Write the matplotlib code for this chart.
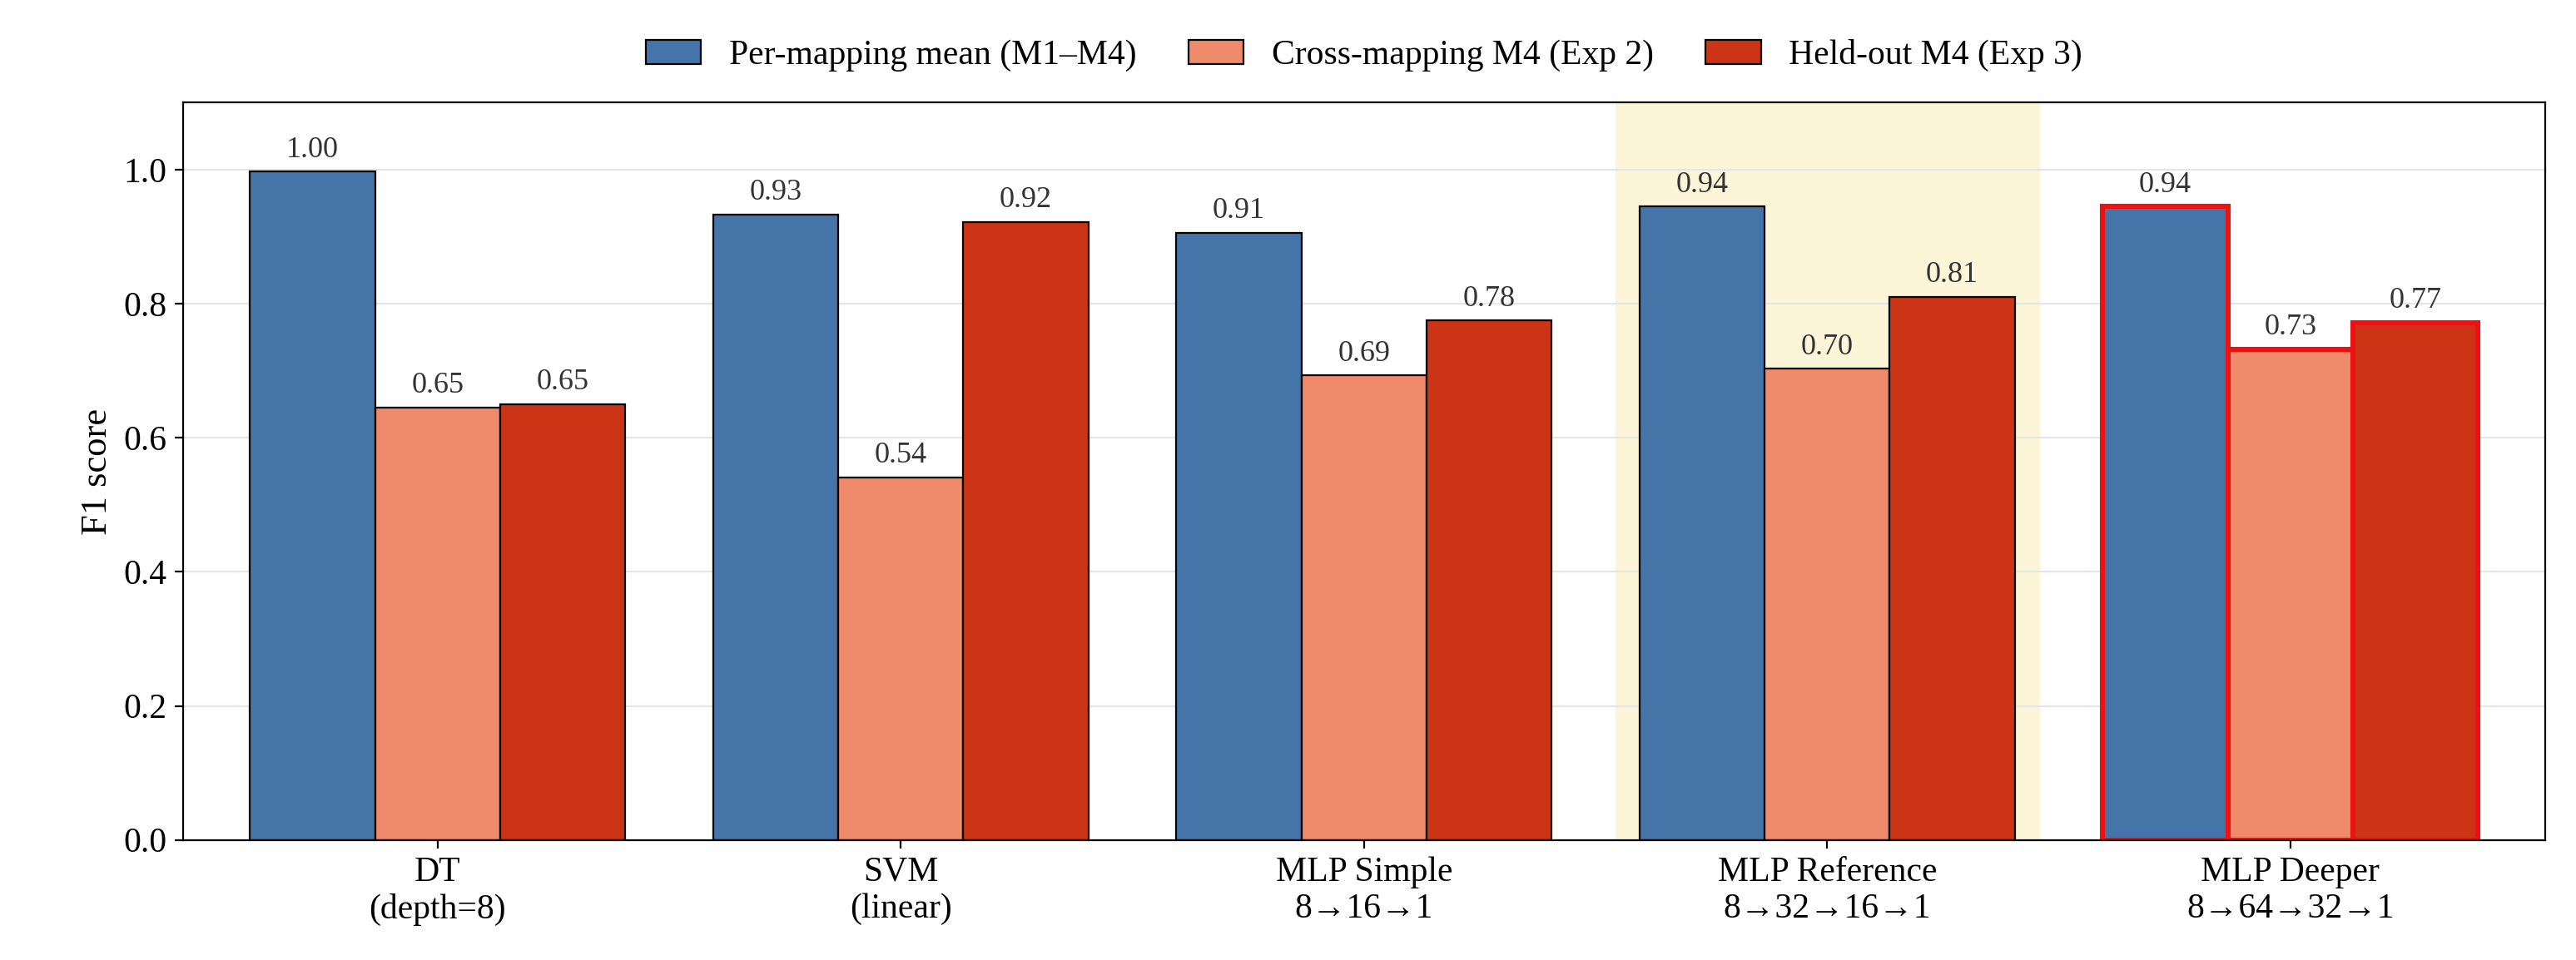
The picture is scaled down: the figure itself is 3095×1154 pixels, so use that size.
import matplotlib.pyplot as plt
import numpy as np

plt.rcParams['font.family'] = ['Liberation Serif', 'DejaVu Serif']

models = ['DT\n(depth=8)', 'SVM\n(linear)', 'MLP Simple\n8→16→1',
          'MLP Reference\n8→32→16→1', 'MLP Deeper\n8→64→32→1']
per_mapping = [0.997, 0.933, 0.906, 0.945, 0.945]
cross_mapping = [0.645, 0.541, 0.693, 0.703, 0.732]
held_out = [0.650, 0.922, 0.775, 0.810, 0.772]

series = [
    ('Per-mapping mean (M1–M4)', per_mapping, '#4575a8'),
    ('Cross-mapping M4 (Exp 2)', cross_mapping, '#ef8a6b'),
    ('Held-out M4 (Exp 3)', held_out, '#cb3414'),
]

fig = plt.figure(figsize=(15.475, 5.77), dpi=200)
ax = fig.add_axes([0.071, 0.125, 0.917, 0.768])

x = np.arange(len(models))
w = 0.27
ax.axvspan(3 - 0.455, 3 + 0.455, color='#fdf5d8', zorder=0)

for i, (name, vals, col) in enumerate(series):
    pos = x + (i - 1) * w
    bars = ax.bar(pos, vals, w, color=col, edgecolor='black', linewidth=0.8,
                  label=name, zorder=2)
    bars[4].set_edgecolor('#ee1111')
    bars[4].set_linewidth(2.2)
    for p, v in zip(pos, vals):
        ax.text(p, v + 0.012, f'{v:.2f}', ha='center', va='bottom',
                fontsize=13, color='#333333')

ax.set_xlim(-0.55, 4.55)
ax.set_ylim(0, 1.1)
ax.set_yticks(np.arange(0, 1.01, 0.2))
ax.set_xticks(x)
ax.set_xticklabels(models, fontsize=15)
ax.tick_params(axis='y', labelsize=15)
ax.set_ylabel('F1 score', fontsize=16)
ax.grid(axis='y', color='#e5e5e5', linewidth=0.8, zorder=1)
ax.set_axisbelow(True)

ax.legend(loc='lower center', bbox_to_anchor=(0.5, 1.0), ncol=3, frameon=False,
          fontsize=15, handlelength=1.6, columnspacing=1.5)

fig.savefig('out.png')
